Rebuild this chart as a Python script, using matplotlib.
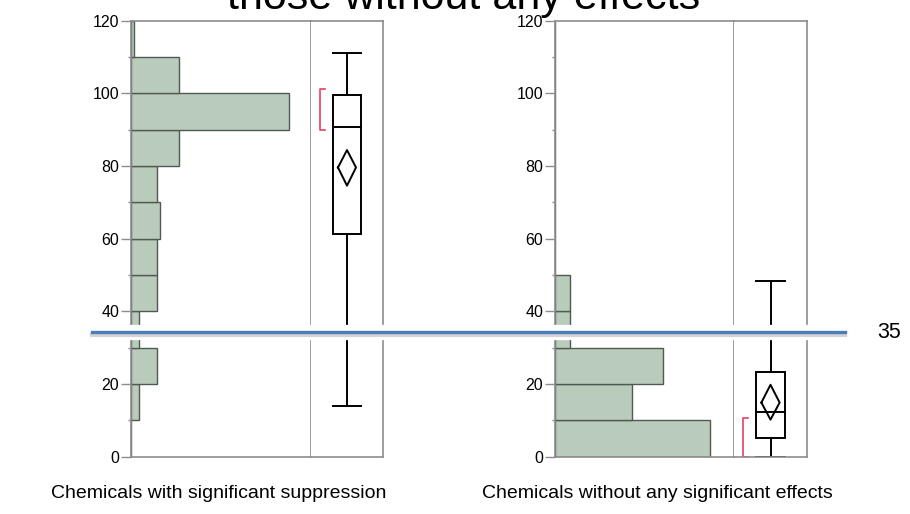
import numpy as np
import matplotlib as mpl
import matplotlib.pyplot as plt
from matplotlib.lines import Line2D
import matplotlib.transforms as mtransforms

# histogram bins (lower edges) and bar lengths
bin_edges = np.arange(0, 130, 10)
supp_counts = [0, 1, 3.1, 1, 3.1, 3.1, 3.5, 3.1, 5.75, 19, 5.75, 0.36]
none_counts = [10, 5, 7, 1, 1, 0, 0, 0, 0, 0, 0, 0]

# box plot summaries: whisker low, q1, median, q3, whisker high
supp_box = [14.0, 61.4, 90.8, 99.5, 111.2]
none_box = [0.0, 5.1, 12.4, 23.3, 48.4]
# mean and its confidence limits (means diamond)
supp_mean = [79.6, 74.6, 84.4]
none_mean = [14.9, 10.2, 19.8]
# shortest-half brackets
supp_short = [89.9, 101.1]
none_short = [0.0, 10.7]

threshold = 34.2
threshold_label = "35"

labels = ["Chemicals with significant suppression",
          "Chemicals without any significant effects"]
title = "those without any effects"

mpl.rcParams['font.family'] = ['Liberation Sans', 'DejaVu Sans']

frame_col = "#8c8c8c"
bar_col = "#b9cbbb"
bar_edge = "#4f5a52"
red = "#e8415f"

W, H = 910, 514
fig = plt.figure(figsize=(W / 100, H / 100), dpi=100)


def px_axes(x0, x1, y0=20.7, y1=456.7):
    return fig.add_axes([x0 / W, (H - y1) / H, (x1 - x0) / W, (y1 - y0) / H])


def draw_hist(ax, counts, xmax):
    ax.barh(bin_edges[:-1], counts, height=10, align="edge", color=bar_col,
            edgecolor=bar_edge, linewidth=1.0)
    ax.set_xlim(0, xmax)
    ax.set_ylim(0, 120)
    ax.set_yticks(np.arange(0, 121, 20))
    ax.set_yticks(np.arange(10, 120, 20), minor=True)
    ax.tick_params(axis="y", which="major", length=7, width=1, color=frame_col,
                   labelsize=11.5, pad=1.5)
    ax.tick_params(axis="y", which="minor", length=2.5, width=1, color=frame_col)
    ax.set_xticks([])
    for s in ax.spines.values():
        s.set_color(frame_col)
        s.set_linewidth(1.2)


def draw_box(ax, box, mean, short):
    lo, q1, med, q3, hi = box
    c, hw = 0.5, 0.2
    ax.plot([c, c], [lo, q1], color="black", lw=1.4)
    ax.plot([c, c], [q3, hi], color="black", lw=1.4)
    ax.plot([c - hw, c + hw], [lo, lo], color="black", lw=1.4)
    ax.plot([c - hw, c + hw], [hi, hi], color="black", lw=1.4)
    ax.add_patch(plt.Rectangle((c - hw, q1), 2 * hw, q3 - q1, fill=False,
                               ec="black", lw=1.4))
    ax.plot([c - hw, c + hw], [med, med], color="black", lw=1.4)
    m, ml, mh = mean
    dw = 0.125
    ax.plot([c - dw, c, c + dw, c, c - dw], [m, mh, m, ml, m], color="black", lw=1.4)
    bx0, bx1 = 0.19, 0.13
    ax.plot([bx0, bx1, bx1, bx0], [short[0], short[0], short[1], short[1]],
            color=red, lw=1.2)
    ax.set_xlim(0, 1)
    ax.set_ylim(0, 120)
    ax.set_xticks([])
    ax.set_yticks([])
    for s in ax.spines.values():
        s.set_color(frame_col)
        s.set_linewidth(1.2)
    ax.spines["left"].set_visible(False)


ax1 = px_axes(131, 311)
draw_hist(ax1, supp_counts, 21.7)
bx1 = px_axes(311, 383)
draw_box(bx1, supp_box, supp_mean, supp_short)

ax2 = px_axes(555, 734)
draw_hist(ax2, none_counts, 11.55)
bx2 = px_axes(734, 807)
draw_box(bx2, none_box, none_mean, none_short)

# threshold line drawn over both panels, with a white halo and soft shadow
tr = mtransforms.blended_transform_factory(fig.transFigure, ax1.transData)
xs = [92 / W, 845 / W]
shadow = mtransforms.offset_copy(tr, fig=fig, x=0, y=-2.5, units="dots")
fig.add_artist(Line2D(xs, [threshold] * 2, transform=tr, color="white", lw=11, zorder=10))
fig.add_artist(Line2D(xs, [threshold] * 2, transform=shadow, color="#d4d4d4", lw=3, zorder=11))
fig.add_artist(Line2D(xs, [threshold] * 2, transform=tr, color="#4a7ebb", lw=2.4, zorder=12))
fig.text(877 / W, threshold, threshold_label, transform=tr, fontsize=15.5,
         va="center", ha="left", zorder=13)

fig.text(464 / W, (H - 9) / H, title, fontsize=31, ha="center", va="baseline")
fig.text(386 / W, (H - 498) / H, labels[0], fontsize=14, ha="right", va="baseline")
fig.text(482 / W, (H - 498) / H, labels[1], fontsize=14, ha="left", va="baseline")

fig.savefig("out.png", dpi=100)
